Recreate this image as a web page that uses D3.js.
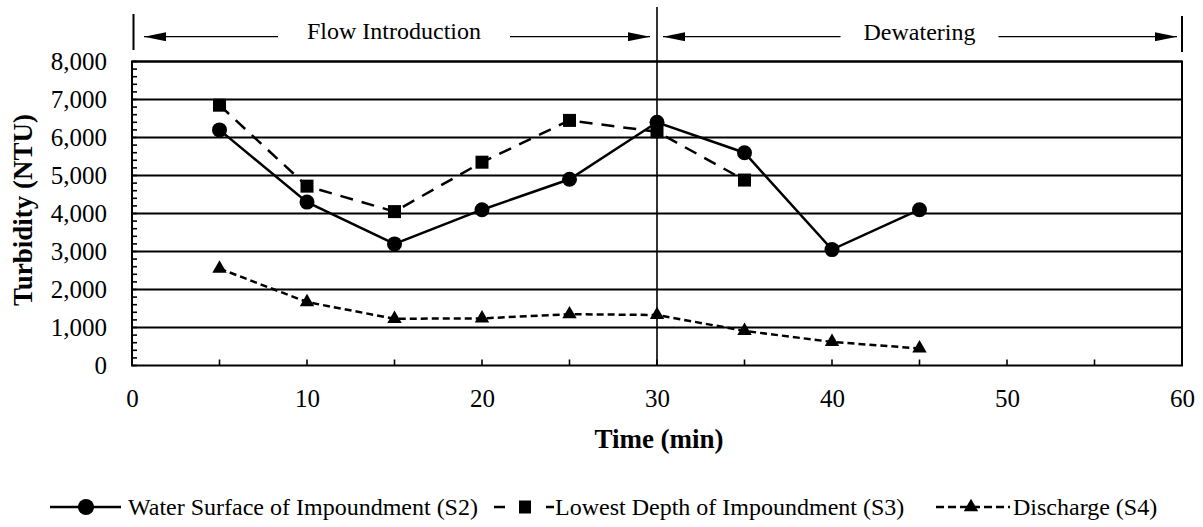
<!DOCTYPE html>
<html><head><meta charset="utf-8">
<script src="https://cdn.jsdelivr.net/npm/d3@7"></script>
<style>body{margin:0;background:#fff;} svg{display:block;}</style>
</head><body>
<svg id="chart" width="1203" height="527"></svg>
<script>
const times = [5, 10, 15, 20, 25, 30, 35, 40, 45];
const s2Values = [6200, 4300, 3200, 4100, 4900, 6400, 5600, 3050, 4100];
const s3Times = [5, 10, 15, 20, 25, 30, 35];
const s3Values = [6850, 4720, 4050, 5350, 6450, 6150, 4880];
const s4Values = [2550, 1670, 1230, 1240, 1350, 1330, 910, 620, 450];
const yTicks = [0, 1000, 2000, 3000, 4000, 5000, 6000, 7000, 8000];
const xTicks = [0, 10, 20, 30, 40, 50, 60];
const seriesNames = ["Water Surface of Impoundment (S2)", "Lowest Depth of Impoundment (S3)", "Discharge (S4)"];
const phaseLabels = ["Flow Introduction", "Dewatering"];
const phaseBounds = [0, 30, 60];

const svg = d3.select("#chart");
const FONT = "'Liberation Serif','Times New Roman',serif";
const L = 132, R = 1182, T = 61.5, B = 365.5;
const x = d3.scaleLinear().domain([0, 60]).range([L, R]);
const y = d3.scaleLinear().domain([0, 8000]).range([B, T]);

svg.append("g").selectAll("line").data(yTicks.slice(1)).join("line")
  .attr("x1", L).attr("x2", R).attr("y1", d => y(d)).attr("y2", d => y(d))
  .attr("stroke", "#000").attr("stroke-width", 2);

svg.append("g").selectAll("line").data(d3.range(0, 8001, 200)).join("line")
  .attr("x1", L).attr("x2", L + 5).attr("y1", d => y(d)).attr("y2", d => y(d))
  .attr("stroke", "#000").attr("stroke-width", 1.6);

svg.append("g").selectAll("line").data(d3.range(5, 60, 5)).join("line")
  .attr("x1", d => x(d)).attr("x2", d => x(d)).attr("y1", B).attr("y2", B - 6)
  .attr("stroke", "#000").attr("stroke-width", 1.6);

svg.append("rect").attr("x", L).attr("y", T).attr("width", R - L).attr("height", B - T)
  .attr("fill", "none").attr("stroke", "#000").attr("stroke-width", 2);

const yAxis = d3.axisLeft(y).tickValues(yTicks).tickFormat(d3.format(",")).tickSize(0).tickPadding(25);
const gy = svg.append("g").attr("transform", `translate(${L},0)`).call(yAxis);
gy.select(".domain").remove();
gy.selectAll("text").attr("font-family", FONT).attr("font-size", 25).attr("fill", "#000");

const xAxis = d3.axisBottom(x).tickValues(xTicks).tickSize(0).tickPadding(23.5);
const gx = svg.append("g").attr("transform", `translate(0,${B})`).call(xAxis);
gx.select(".domain").remove();
gx.selectAll("text").attr("font-family", FONT).attr("font-size", 25).attr("fill", "#000");

svg.append("text").attr("x", 659).attr("y", 448).attr("text-anchor", "middle")
  .attr("font-family", FONT).attr("font-size", 27).attr("font-weight", "bold").text("Time (min)");
svg.append("text").attr("transform", `translate(32,210) rotate(-90)`).attr("text-anchor", "middle")
  .attr("font-family", FONT).attr("font-size", 27).attr("font-weight", "bold").text("Turbidity (NTU)");

const defs = svg.append("defs");
defs.append("marker").attr("id", "ah").attr("viewBox", "0 0 22 9").attr("refX", 22).attr("refY", 4.5)
  .attr("markerWidth", 22).attr("markerHeight", 9).attr("markerUnits", "userSpaceOnUse").attr("orient", "auto")
  .append("path").attr("d", "M0,0 L22,4.5 L0,9 Z").attr("fill", "#000");

svg.append("line").attr("x1", x(0) + 1.5).attr("x2", x(0) + 1.5).attr("y1", 14).attr("y2", 50).attr("stroke", "#000").attr("stroke-width", 2);
svg.append("line").attr("x1", x(60)).attr("x2", x(60)).attr("y1", 16).attr("y2", 52).attr("stroke", "#000").attr("stroke-width", 2);
svg.append("line").attr("x1", x(30)).attr("x2", x(30)).attr("y1", 7).attr("y2", B).attr("stroke", "#000").attr("stroke-width", 1.6);

const arrowY = 36.7;
const phaseBase = [38.5, 40];
phaseLabels.forEach((lab, i) => {
  const a = x(phaseBounds[i]), b = x(phaseBounds[i + 1]);
  const c = (a + b) / 2 + (i === 0 ? -0.5 : 0);
  const t = svg.append("text").attr("x", c).attr("y", phaseBase[i]).attr("text-anchor", "middle")
    .attr("font-family", FONT).attr("font-size", 24).text(lab);
  const w = t.node().getComputedTextLength();
  const gap = i === 0 ? 29 : 23;
  svg.append("line").attr("x1", c - w / 2 - gap).attr("x2", a + (i === 0 ? 12 : 6)).attr("y1", arrowY).attr("y2", arrowY)
    .attr("stroke", "#000").attr("stroke-width", 1.2).attr("marker-end", "url(#ah)");
  svg.append("line").attr("x1", c + w / 2 + gap).attr("x2", b - (i === 0 ? 7 : 5)).attr("y1", arrowY).attr("y2", arrowY)
    .attr("stroke", "#000").attr("stroke-width", 1.2).attr("marker-end", "url(#ah)");
});

const line = d3.line().x(d => x(d[0])).y(d => y(d[1]));
const s2 = times.map((t, i) => [t, s2Values[i]]);
const s3 = s3Times.map((t, i) => [t, s3Values[i]]);
const s4 = times.map((t, i) => [t, s4Values[i]]);

svg.append("path").datum(s4).attr("d", line).attr("fill", "none").attr("stroke", "#000").attr("stroke-width", 2.5).attr("stroke-dasharray", "7,4");
svg.append("path").datum(s3).attr("d", line).attr("fill", "none").attr("stroke", "#000").attr("stroke-width", 2.5).attr("stroke-dasharray", "13,9");
svg.append("path").datum(s2).attr("d", line).attr("fill", "none").attr("stroke", "#000").attr("stroke-width", 2.5);

const tri = d3.symbol().type(d3.symbolTriangle).size(90);
svg.append("g").selectAll("path").data(s4).join("path")
  .attr("transform", d => `translate(${x(d[0])},${y(d[1])})`).attr("d", tri).attr("fill", "#000");
svg.append("g").selectAll("rect").data(s3).join("rect")
  .attr("x", d => x(d[0]) - 6.5).attr("y", d => y(d[1]) - 6.5).attr("width", 13).attr("height", 13).attr("fill", "#000");
svg.append("g").selectAll("circle").data(s2).join("circle")
  .attr("cx", d => x(d[0])).attr("cy", d => y(d[1])).attr("r", 7.5).attr("fill", "#000");

const ly = 507, lfs = 24;
const lg = svg.append("g");
lg.append("line").attr("x1", 50).attr("x2", 121).attr("y1", ly).attr("y2", ly).attr("stroke", "#000").attr("stroke-width", 2.5);
lg.append("circle").attr("cx", 86).attr("cy", ly).attr("r", 8).attr("fill", "#000");
lg.append("text").attr("x", 128).attr("y", ly + 8).attr("font-family", FONT).attr("font-size", lfs).text(seriesNames[0]);
lg.append("line").attr("x1", 494).attr("x2", 554).attr("y1", ly).attr("y2", ly).attr("stroke", "#000").attr("stroke-width", 2.5).attr("stroke-dasharray", "11,15");
lg.append("rect").attr("x", 519).attr("y", ly - 6.5).attr("width", 12).attr("height", 13).attr("fill", "#000");
lg.append("text").attr("x", 555).attr("y", ly + 8).attr("font-family", FONT).attr("font-size", lfs).text(seriesNames[1]);
lg.append("line").attr("x1", 936).attr("x2", 1010).attr("y1", ly).attr("y2", ly).attr("stroke", "#000").attr("stroke-width", 2.5).attr("stroke-dasharray", "8,4");
lg.append("path").attr("transform", `translate(971,${ly})`).attr("d", tri).attr("fill", "#000");
lg.append("text").attr("x", 1013).attr("y", ly + 8).attr("font-family", FONT).attr("font-size", lfs).text(seriesNames[2]);
</script>
</body></html>
